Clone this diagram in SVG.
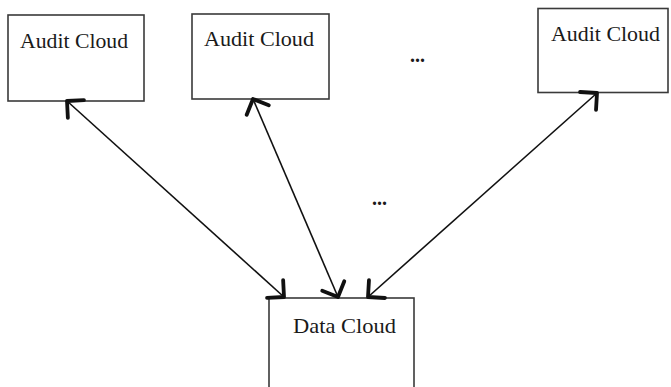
<svg xmlns="http://www.w3.org/2000/svg" width="671" height="387" viewBox="0 0 671 387">
  <style>
    .box { fill: #ffffff; stroke: #3a3a3a; stroke-width: 1.6; }
    .label { font-family: "Liberation Serif", "Times New Roman", serif; font-size: 22px; fill: #1a1a1a; }
    .dots { font-family: "Liberation Serif", "Times New Roman", serif; font-size: 20px; font-weight: bold; fill: #1a1a1a; }
    .link { fill: none; stroke: #111111; stroke-width: 1.6; }
  </style>
  <defs>
    <marker id="head" markerUnits="userSpaceOnUse" markerWidth="40" markerHeight="40" refX="0" refY="0" viewBox="-20 -20 40 40" orient="auto-start-reverse" overflow="visible">
      <path d="M-12,-12 L0,0 L-12,12" fill="none" stroke="#111111" stroke-width="3.8" stroke-linecap="round" stroke-linejoin="round"/>
    </marker>
  </defs>

  <rect width="671" height="387" fill="#ffffff"/>

  <g id="audit-cloud-1">
    <rect class="box" x="8" y="15" width="136" height="86"/>
    <text class="label" x="20" y="48" textLength="108" lengthAdjust="spacingAndGlyphs">Audit Cloud</text>
  </g>

  <g id="audit-cloud-2">
    <rect class="box" x="192" y="14" width="137" height="85"/>
    <text class="label" x="204" y="46" textLength="110" lengthAdjust="spacingAndGlyphs">Audit Cloud</text>
  </g>

  <g id="audit-cloud-n">
    <rect class="box" x="538" y="8.5" width="130" height="84"/>
    <text class="label" x="551" y="41" textLength="109" lengthAdjust="spacingAndGlyphs">Audit Cloud</text>
  </g>

  <g id="data-cloud">
    <rect class="box" x="269" y="298" width="145" height="110"/>
    <text class="label" x="293" y="333" textLength="103" lengthAdjust="spacingAndGlyphs">Data Cloud</text>
  </g>

  <g id="ellipses">
    <text class="dots" x="410" y="62">...</text>
    <text class="dots" x="372" y="205">...</text>
  </g>

  <g id="connectors">
    <path class="link" d="M67,101 L284,297" marker-start="url(#head)" marker-end="url(#head)"/>
    <path class="link" d="M253,99 L338,297" marker-start="url(#head)" marker-end="url(#head)"/>
    <path class="link" d="M597,93 L368,297" marker-start="url(#head)" marker-end="url(#head)"/>
  </g>
</svg>
